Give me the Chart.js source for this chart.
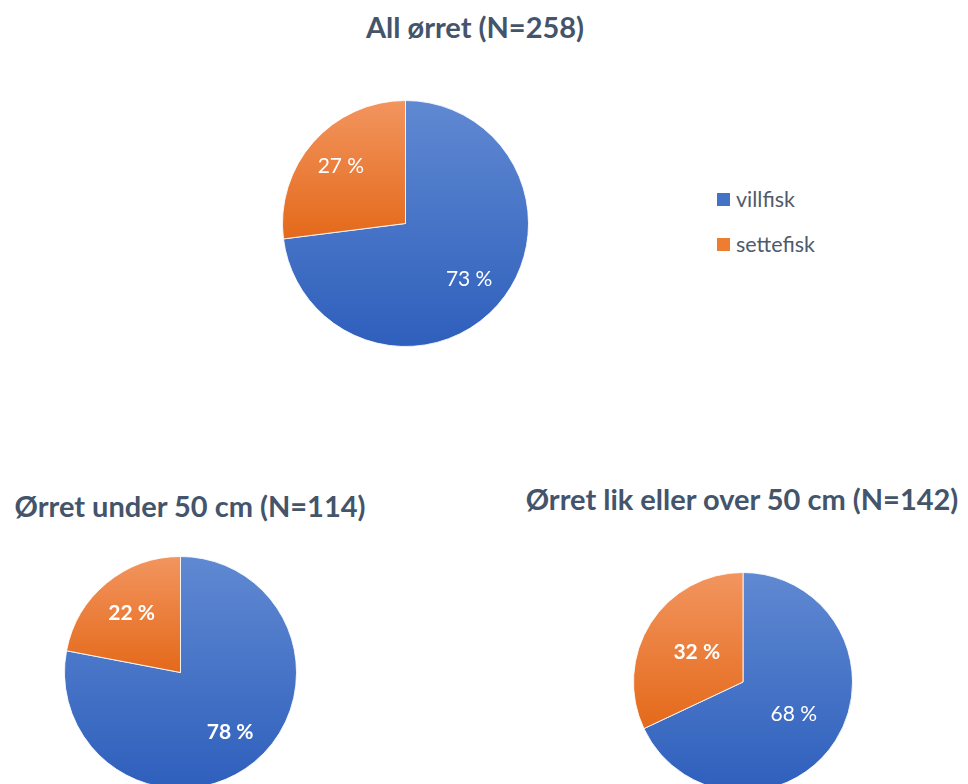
<!DOCTYPE html>
<html>
<head>
<meta charset="utf-8">
<script src="https://cdn.jsdelivr.net/npm/chart.js@4.4.0/dist/chart.umd.min.js"></script>
<style>
    html, body { margin: 0; padding: 0; background: #fff; }
    body { width: 968px; height: 784px; position: relative; overflow: hidden; font-family: Lato, "Open Sans", sans-serif; }
    .title { position: absolute; transform: translate(-50%, -50%); font-weight: bold; font-size: 29px; line-height: 32px; color: #44546a; white-space: nowrap; }
    .pie { position: absolute; }
    #legend { position: absolute; left: 717px; top: 185px; font-size: 21.5px; color: #4f5b6c; }
    #legend .item { display: flex; align-items: center; height: 28px; margin-bottom: 17px; }
    #legend .box { width: 13px; height: 13px; margin-right: 6px; }
</style>
</head>
<body>
<div class="title" id="title0" style="left:475px; top:27px;"></div>
<div class="title" id="title1" style="left:190px; top:506px;"></div>
<div class="title" id="title2" style="left:742px; top:499px;"></div>
<canvas class="pie" id="pieAll" width="247" height="247" style="left:282px; top:100px;"></canvas>
<canvas class="pie" id="pieUnder" width="233" height="233" style="left:64px; top:556px;"></canvas>
<canvas class="pie" id="pieOver" width="220" height="220" style="left:633px; top:572px;"></canvas>
<div id="legend"></div>
<script>
// Chart data
const categories = ['villfisk', 'settefisk'];
const allValues = [73, 27];
const under50Values = [78, 22];
const over50Values = [68, 32];
const chartTitles = ['All ørret (N=258)', 'Ørret under 50 cm (N=114)', 'Ørret lik eller over 50 cm (N=142)'];

// light (top) / dark (bottom) gradient stops per category
const lightColors = ['#6089d2', '#f2955f'];
const darkColors = ['#2e5fbc', '#e4691a'];
const legendColors = ['#4472c4', '#ed7d31'];

chartTitles.forEach((t, i) => {
    document.getElementById('title' + i).textContent = t;
});

// Vertical gradient over the bounding box of each slice
function sliceFill(ctx) {
    const chart = ctx.chart;
    const area = chart.chartArea;
    const i = ctx.dataIndex;
    if (!area) return darkColors[i];
    const data = ctx.dataset.data;
    const total = data.reduce((a, b) => a + b, 0);
    let before = 0;
    for (let k = 0; k < i; k++) before += data[k];
    const a0 = -Math.PI / 2 + before / total * 2 * Math.PI;
    const a1 = a0 + data[i] / total * 2 * Math.PI;
    const cy = (area.top + area.bottom) / 2;
    const r = Math.min(area.width, area.height) / 2;
    const ys = [0, Math.sin(a0), Math.sin(a1)];
    [-Math.PI / 2, Math.PI / 2, 3 * Math.PI / 2].forEach(k => {
        if (k >= a0 && k <= a1) ys.push(Math.sin(k));
    });
    const top = cy + r * Math.min(...ys);
    const bottom = cy + r * Math.max(...ys);
    const g = chart.ctx.createLinearGradient(0, top, 0, bottom);
    g.addColorStop(0, lightColors[i]);
    g.addColorStop(1, darkColors[i]);
    return g;
}

// Percentage labels inside slices
const sliceLabels = {
    id: 'sliceLabels',
    afterDatasetsDraw(chart, args, opts) {
        const ctx = chart.ctx;
        const values = chart.data.datasets[0].data;
        chart.getDatasetMeta(0).data.forEach((arc, i) => {
            const p = arc.getProps(['x', 'y', 'startAngle', 'endAngle', 'outerRadius'], true);
            const mid = (p.startAngle + p.endAngle) / 2;
            const d = p.outerRadius * opts.distance[i];
            ctx.save();
            ctx.font = (opts.bold[i] ? 'bold ' : '') + '21px Lato, "Open Sans", sans-serif';
            ctx.fillStyle = '#ffffff';
            ctx.textAlign = 'center';
            ctx.textBaseline = 'middle';
            ctx.fillText(values[i] + ' %', p.x + Math.cos(mid) * d, p.y + Math.sin(mid) * d);
            ctx.restore();
        });
    }
};

function makePie(id, values, labelOpts) {
    return new Chart(document.getElementById(id), {
        type: 'pie',
        data: {
            labels: categories,
            datasets: [{
                data: values,
                backgroundColor: sliceFill,
                borderColor: 'rgba(255, 255, 255, 0.85)',
                borderWidth: 1
            }]
        },
        options: {
            responsive: false,
            animation: false,
            layout: { padding: 0 },
            plugins: {
                legend: { display: false },
                tooltip: { enabled: false },
                sliceLabels: labelOpts
            }
        },
        plugins: [sliceLabels]
    });
}

makePie('pieAll', allValues, { distance: [0.69, 0.70], bold: [false, false] });
makePie('pieUnder', under50Values, { distance: [0.67, 0.66], bold: [true, true] });
makePie('pieOver', over50Values, { distance: [0.55, 0.50], bold: [false, true] });

// Legend
const legend = document.getElementById('legend');
categories.forEach((c, i) => {
    const item = document.createElement('div');
    item.className = 'item';
    const box = document.createElement('span');
    box.className = 'box';
    box.style.background = legendColors[i];
    const text = document.createElement('span');
    text.textContent = c;
    item.appendChild(box);
    item.appendChild(text);
    legend.appendChild(item);
});
</script>
</body>
</html>
